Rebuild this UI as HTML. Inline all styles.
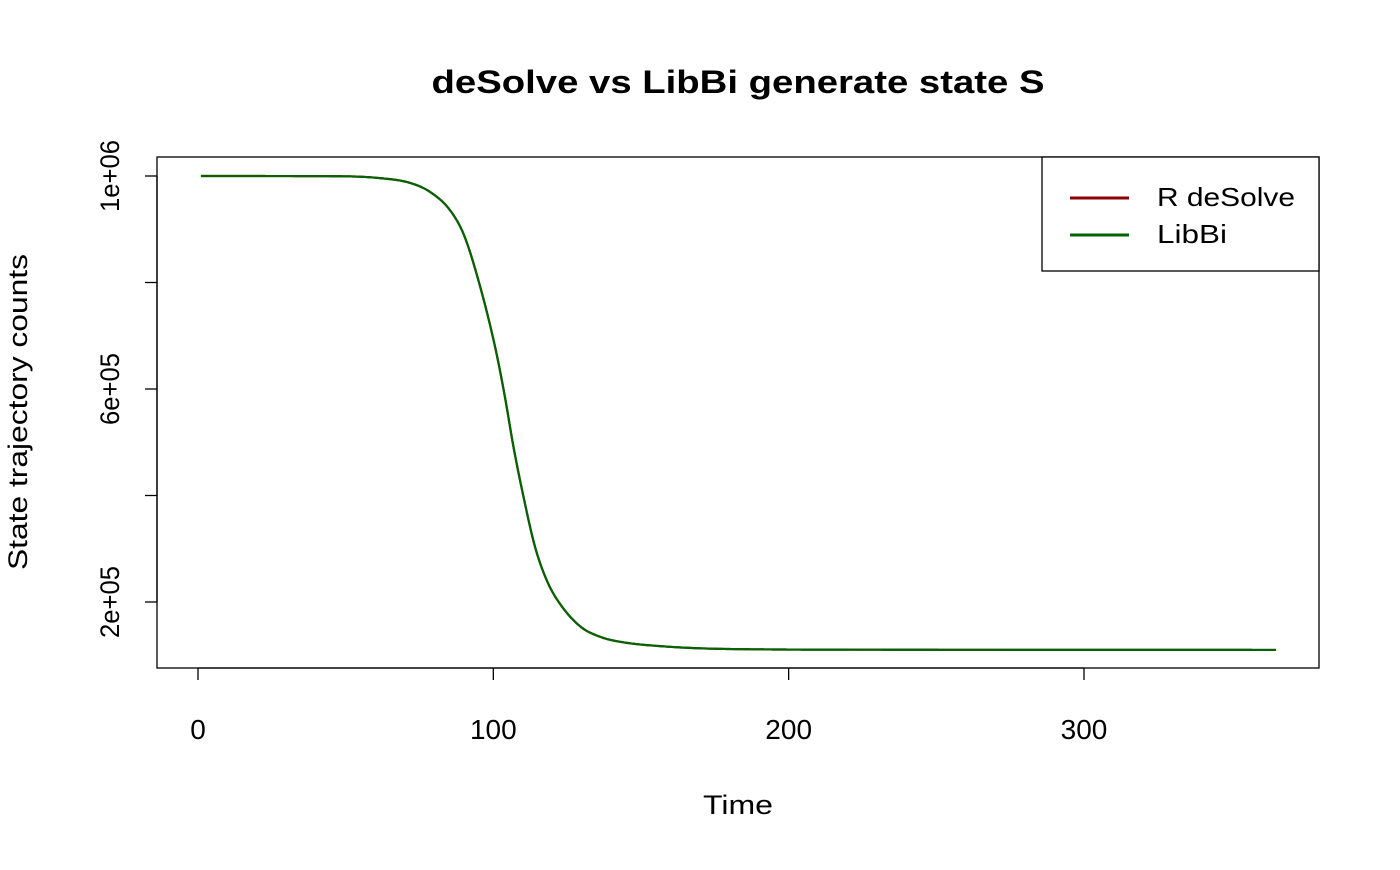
<!DOCTYPE html>
<html><head><meta charset="utf-8"><style>
body{margin:0;background:#fff;}
svg text{font-family:"Liberation Sans",Arial,sans-serif;fill:#000;}
</style></head><body>
<svg id="chart" width="1400" height="865" viewBox="0 0 1400 865" xmlns="http://www.w3.org/2000/svg">
<text x="738" y="93" text-anchor="middle" font-size="32" font-weight="bold" textLength="613" lengthAdjust="spacingAndGlyphs">deSolve vs LibBi generate state S</text>
<rect x="157" y="157" width="1162" height="511" fill="none" stroke="#000" stroke-width="1.3"/>
<g id="xaxis"></g>
<g id="yaxis"></g>
<text x="738" y="814" text-anchor="middle" font-size="27" textLength="70" lengthAdjust="spacingAndGlyphs">Time</text>
<text transform="translate(27,412) rotate(-90)" text-anchor="middle" font-size="27" textLength="316" lengthAdjust="spacingAndGlyphs">State trajectory counts</text>
<g id="series"></g>
<g>
<rect x="1042" y="157" width="277" height="114" fill="#fff" stroke="#000" stroke-width="1.3"/>
<line x1="1070" y1="198" x2="1129" y2="198" stroke="#8b0000" stroke-width="3"/>
<text x="1157" y="206" font-size="26" textLength="138" lengthAdjust="spacingAndGlyphs">R deSolve</text>
<line x1="1070" y1="235" x2="1129" y2="235" stroke="#006400" stroke-width="3"/>
<text x="1157" y="243" font-size="26" textLength="70" lengthAdjust="spacingAndGlyphs">LibBi</text>
</g>
</svg>
<script>
const times = [1, 48, 61.6, 71.8, 78.6, 85.3, 90, 94.9, 100.6, 103.9, 106.8, 110.2, 114.1, 118.3, 122.9, 129.7, 136.5, 143.2, 156.8, 176.9, 220, 365];
const desolveS = [1000000, 999500, 996000, 987000, 970000, 936000, 890000, 805000, 679000, 586000, 492000, 398000, 304000, 238000, 194000, 153000, 134000, 125000, 117000, 112000, 110500, 110000];
const libbiS = desolveS.slice();
const xTicks = [0, 100, 200, 300];
const yTicks = [200000, 400000, 600000, 800000, 1000000];
const yTickLabels = ["2e+05", "", "6e+05", "", "1e+06"];

const NS = "http://www.w3.org/2000/svg";
function sx(t){ return 198 + t * 2.9533; }
function sy(v){ return 176 + (1000000 - v) / 200000 * 106.5; }
function mk(tag, attrs, parent){
  const e = document.createElementNS(NS, tag);
  for (const k in attrs) e.setAttribute(k, attrs[k]);
  parent.appendChild(e); return e;
}
const xa = document.getElementById('xaxis');
mk('line', {x1: sx(0), y1: 668, x2: sx(300), y2: 668, stroke: '#000', 'stroke-width': 1.3}, xa);
xTicks.forEach(t => {
  const l = mk('line', {x1: sx(t), y1: 668, x2: sx(t), y2: 680, stroke: '#000', 'stroke-width': 1.3}, xa);
  
  
  const tx = mk('text', {x: sx(t), y: 739, 'text-anchor': 'middle', 'font-size': 28}, xa);
  tx.textContent = t;
  
  
});
const ya = document.getElementById('yaxis');
mk('line', {x1: 157, y1: sy(200000), x2: 157, y2: sy(1000000), stroke: '#000', 'stroke-width': 1.3}, ya);
yTicks.forEach((v, i) => {
  const l = mk('line', {x1: 145, y1: sy(v), x2: 157, y2: sy(v), stroke: '#000', 'stroke-width': 1.3}, ya);
  
  
  if (yTickLabels[i]) {
    const tx = mk('text', {transform: `translate(119,${sy(v)}) rotate(-90)`, 'text-anchor': 'middle', 'font-size': 27, textLength: 72, lengthAdjust: 'spacingAndGlyphs'}, ya);
    tx.textContent = yTickLabels[i];
    
    
  }
});
function monotone(xs, ys){
  const n = xs.length, d = [], m = new Array(n);
  for (let i = 0; i < n - 1; i++) d.push((ys[i+1]-ys[i])/(xs[i+1]-xs[i]));
  m[0] = d[0]; m[n-1] = d[n-2];
  for (let i = 1; i < n - 1; i++) m[i] = (d[i-1]*d[i] <= 0) ? 0 : (d[i-1]+d[i])/2;
  for (let i = 0; i < n - 1; i++) {
    if (d[i] === 0) { m[i] = 0; m[i+1] = 0; continue; }
    const a = m[i]/d[i], b = m[i+1]/d[i], s = a*a + b*b;
    if (s > 9) { const t = 3/Math.sqrt(s); m[i] = t*a*d[i]; m[i+1] = t*b*d[i]; }
  }
  return function(x){
    let i = 0; while (i < n - 2 && x > xs[i+1]) i++;
    const h = xs[i+1]-xs[i], t = (x - xs[i])/h;
    const h00 = 2*t*t*t-3*t*t+1, h10 = t*t*t-2*t*t+t, h01 = -2*t*t*t+3*t*t, h11 = t*t*t-t*t;
    return h00*ys[i] + h10*h*m[i] + h01*ys[i+1] + h11*h*m[i+1];
  };
}
function pathFor(vals){
  const f = monotone(times, vals);
  let d = '';
  const t0 = times[0], t1 = times[times.length-1];
  for (let t = t0; t <= t1 + 1e-9; t += 0.5) d += (d ? ' L' : 'M') + sx(t).toFixed(2) + ',' + sy(f(t)).toFixed(2);
  return d;
}
const sg = document.getElementById('series');
const r = mk('path', {d: pathFor(desolveS), fill: 'none', stroke: '#8b0000', 'stroke-width': 2.2}, sg);


const g = mk('path', {d: pathFor(libbiS), fill: 'none', stroke: '#006400', 'stroke-width': 2.2}, sg);


</script>
</body></html>
